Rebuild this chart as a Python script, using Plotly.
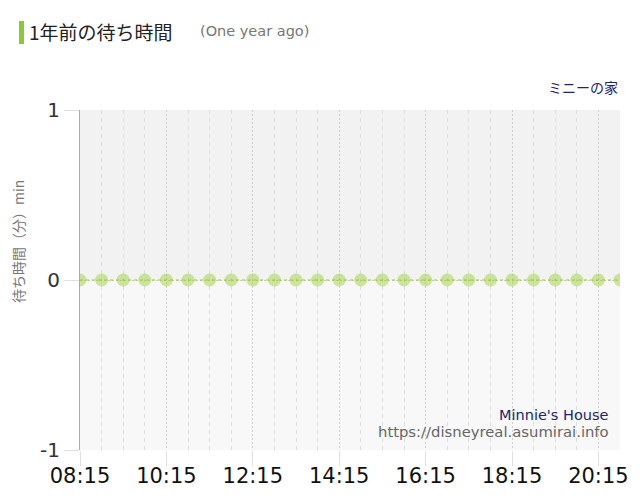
import plotly.graph_objects as go

times = ["08:15", "08:45", "09:15", "09:45", "10:15", "10:45", "11:15", "11:45",
         "12:15", "12:45", "13:15", "13:45", "14:15", "14:45", "15:15", "15:45",
         "16:15", "16:45", "17:15", "17:45", "18:15", "18:45", "19:15", "19:45",
         "20:15", "20:45"]
waits = [0, 0, 0, 0, 0, 0, 0, 0, 0, 0, 0, 0, 0, 0, 0, 0, 0, 0, 0, 0, 0, 0, 0, 0, 0, 0]
y_ticks = [-1, 0, 1]
y_tick_text = ["-1", "0", "1"]

DAY = "2020-01-01 "
xs = [DAY + t for t in times]

# page has an 8px body margin; plot area spans px 80..620 x 110..450 in the window
fig = go.Figure()
fig.add_trace(go.Scatter(
    x=xs, y=waits, mode="lines+markers",
    line=dict(color="#9acd32", width=1, dash="dot"),
    marker=dict(size=13, color="rgba(154,205,50,0.45)", line=dict(width=0)),
    hoverinfo="skip", showlegend=False,
))

fig.update_layout(
    width=632, height=492,
    margin=dict(l=72, r=20, t=102, b=50),
    paper_bgcolor="white",
    plot_bgcolor="#f8f8f8",
    showlegend=False,
    xaxis=dict(
        type="date",
        range=[xs[0], xs[-1]],
        tick0=xs[0], dtick=7200000,
        tickformat="%H:%M",
        ticks="outside", ticklen=15, tickcolor="#e0e0e0", tickwidth=1,
        ticklabelstandoff=-8,
        tickfont=dict(family="DejaVu Sans", size=21, color="#111"),
        showgrid=True, gridcolor="#cfcfcf", griddash="2px,2px", gridwidth=1,
        minor=dict(dtick=1800000, tick0=xs[0], showgrid=True,
                   gridcolor="#dedede", griddash="4px,4px", gridwidth=1, ticks=""),
        showline=False, zeroline=False, fixedrange=True, automargin=False,
    ),
    yaxis=dict(
        range=[-1, 1],
        tickvals=y_ticks, ticktext=y_tick_text,
        ticks="outside", ticklen=15, tickcolor="#e0e0e0", tickwidth=1,
        tickfont=dict(family="DejaVu Sans", size=20, color="#333"),
        showgrid=True, gridcolor="#c8c8c8", griddash="2px,2px", gridwidth=1,
        zeroline=False,
        showline=True, linecolor="#aaaaaa", linewidth=1,
        fixedrange=True, automargin=False,
    ),
    shapes=[
        dict(type="rect", xref="paper", yref="y", x0=0, x1=1, y0=0, y1=1,
             fillcolor="#f2f2f2", line=dict(width=0), layer="below"),
        dict(type="rect", xref="paper", yref="paper",
             x0=(19 - 80) / 540, x1=(24 - 80) / 540,
             y0=(450 - 21) / 340, y1=(450 - 44) / 340,
             fillcolor="#8cc63f", line=dict(width=0)),
    ],
    annotations=[
        dict(text="1年前の待ち時間", xref="paper", yref="paper",
             x=(27 - 80) / 540, y=(450 - 32) / 340, xanchor="left", yanchor="middle",
             showarrow=False, font=dict(family="Noto Sans CJK JP", size=19, color="#222")),
        dict(text="(One year ago)", xref="paper", yref="paper",
             x=(198 - 80) / 540, y=(450 - 31) / 340, xanchor="left", yanchor="middle",
             showarrow=False, font=dict(family="DejaVu Sans", size=14.5, color="#777")),
        dict(text="ミニーの家", xref="paper", yref="paper",
             x=1.0, y=(450 - 87) / 340, xanchor="right", yanchor="middle",
             showarrow=False, font=dict(family="Noto Sans CJK JP", size=14, color="#24246e")),
        dict(text="Minnie's House", xref="paper", yref="paper",
             x=(611 - 80) / 540, y=(450 - 415) / 340, xanchor="right", yanchor="middle",
             showarrow=False, font=dict(family="DejaVu Sans", size=14.5, color="#24246e")),
        dict(text="https://disneyreal.asumirai.info", xref="paper", yref="paper",
             x=(611 - 80) / 540, y=(450 - 431) / 340, xanchor="right", yanchor="middle",
             showarrow=False, font=dict(family="DejaVu Sans", size=14.8, color="#666")),
        dict(text="待ち時間（分）min", xref="paper", yref="paper",
             x=(18 - 80) / 540, y=(450 - 242) / 340, xanchor="center", yanchor="middle",
             textangle=-90, showarrow=False,
             font=dict(family="Noto Sans CJK JP", size=14, color="#777")),
    ],
)

fig.write_html("out.html")
